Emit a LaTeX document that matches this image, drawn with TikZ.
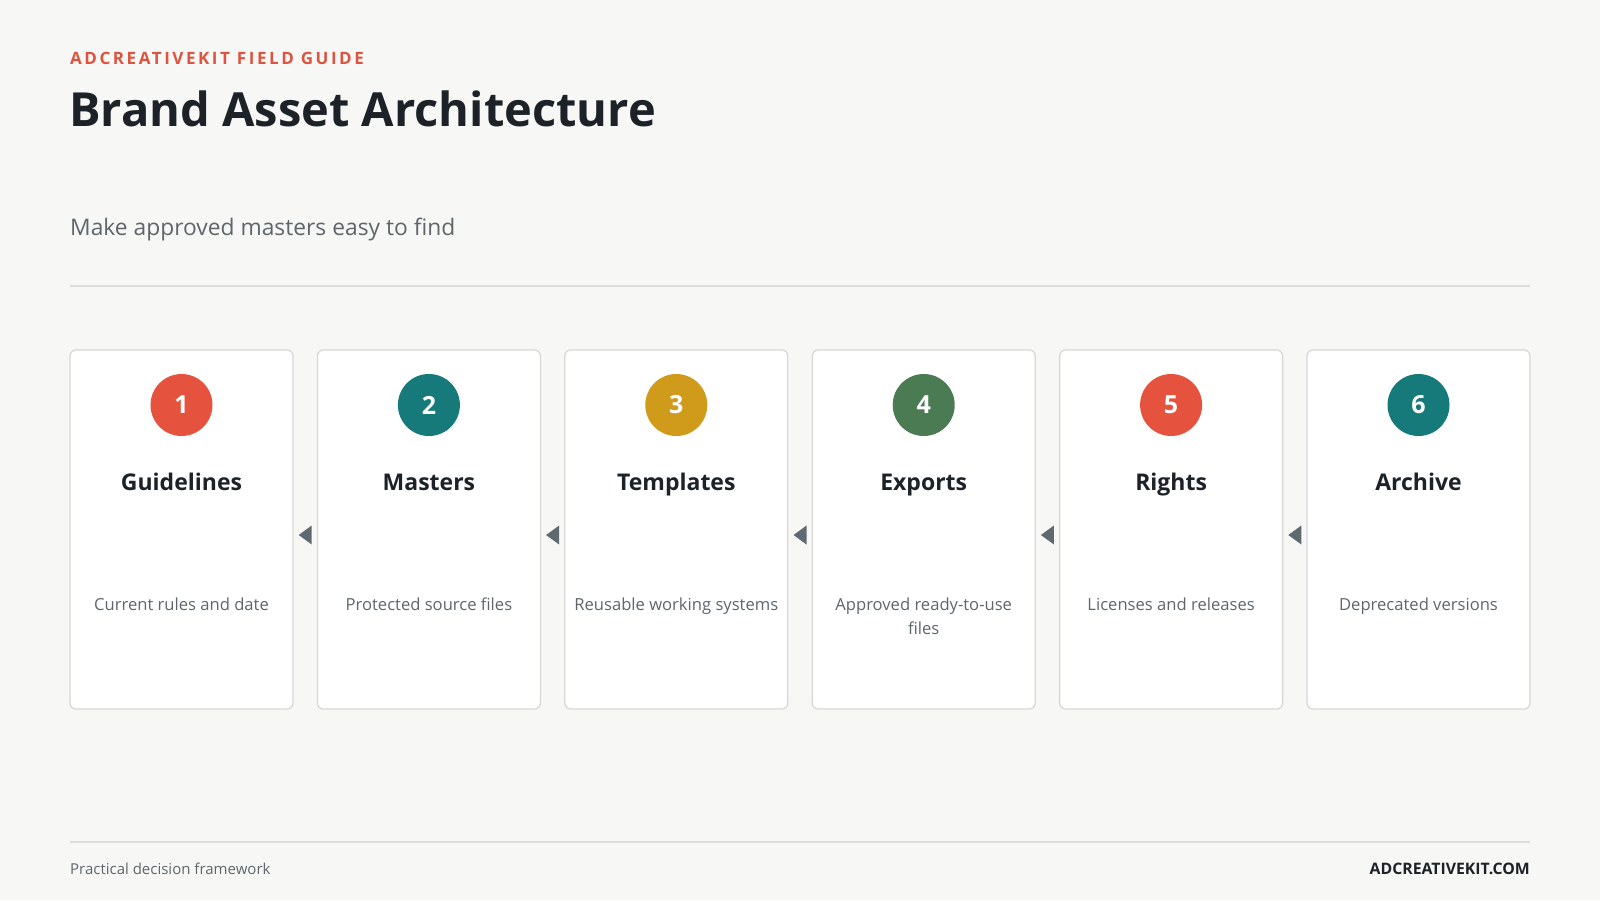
\documentclass[tikz,border=0pt]{standalone}
\usepackage{fontspec}
\setmainfont{Open Sans}
\newfontfamily\kickerfont{Open Sans}[LetterSpace=15]
\usetikzlibrary{calc}

\definecolor{pagebg}{HTML}{F7F7F5}
\definecolor{cardline}{HTML}{D8D8D6}
\definecolor{ruleline}{HTML}{DCDCDA}
\definecolor{inkdark}{HTML}{1C2228}
\definecolor{inkgray}{HTML}{5E666C}
\definecolor{kickred}{HTML}{DD5440}
\definecolor{dotred}{HTML}{E5533F}
\definecolor{dotteal}{HTML}{16797A}
\definecolor{dotgold}{HTML}{D09A1A}
\definecolor{dotgreen}{HTML}{4B7B52}
\definecolor{markgray}{HTML}{5F6A70}

\tikzset{
  card/.style={draw=cardline, line width=1.3pt, fill=white, rounded corners=6pt,
    minimum width=223pt, minimum height=359pt, inner sep=0pt},
  dot/.style={circle, minimum size=62pt, inner sep=0pt, text=white,
    font=\bfseries\fontsize{25}{28}\selectfont},
  cardtitle/.style={anchor=base, inner sep=0pt, text=inkdark,
    font=\bfseries\fontsize{23}{28}\selectfont},
  carddesc/.style={anchor=north, inner sep=0pt, text=inkgray,
    align=center, font=\fontsize{16.6}{24.5}\selectfont},
  rulestyle/.style={ruleline, line width=1.3pt}
}

\begin{document}
\begin{tikzpicture}[x=1pt, y=-1pt]
  \fill[pagebg] (0,0) rectangle (1600,900);
  \useasboundingbox (0,0) rectangle (1600,900);

  % header
  \node [anchor=base west, inner sep=0pt, text=kickred] (kicker) at (70,64.3)
    {\kickerfont\bfseries\fontsize{17}{20}\selectfont ADCREATIVEKIT FIELD GUIDE};
  \node [anchor=base west, inner sep=0pt, text=inkdark] (title) at (69,126.5)
    {\bfseries\fontsize{47}{52}\selectfont Brand Asset Architecture};
  \node [anchor=base west, inner sep=0pt, text=inkgray] (subtitle) at (70,235)
    {\fontsize{22.8}{26}\selectfont Make approved masters easy to find};
  \draw [rulestyle] (70,286) -- (1530,286);

  % cards
  \foreach \i/\name/\desc/\col in {
      1/Guidelines/Current rules and date/dotred,
      2/Masters/Protected source files/dotteal,
      3/Templates/Reusable working systems/dotgold,
      4/Exports/Approved ready-to-use\\files/dotgreen,
      5/Rights/Licenses and releases/dotred,
      6/Archive/Deprecated versions/dotteal} {
    \pgfmathsetmacro\xm{181.5+(\i-1)*247.4}
    \node [card] (c\i) at (\xm,529.5) {};
    \node [dot, fill=\col] (n\i) at (\xm,405) {\i};
    \node [cardtitle] (t\i) at (\xm,490) {\name};
    \node [carddesc] (d\i) at (\xm,597.5) {\desc};
  }

  % markers between cards
  \foreach \i [evaluate=\i as \j using int(\i+1)] in {1,...,5} {
    \coordinate (m\i) at ($(c\i.east)!0.5!(c\j.west)+(0,5.5)$);
    \fill [markgray] ($(m\i)+(-6.5,0)$) -- ++(13,-9.5) -- ++(0,19) -- cycle;
  }

  % footer
  \draw [rulestyle] (70,842) -- (1530,842);
  \node [anchor=base west, inner sep=0pt, text=inkgray] (foot) at (70,874.5)
    {\fontsize{15}{18}\selectfont Practical decision framework};
  \node [anchor=base east, inner sep=0pt, text=inkdark] (site) at (1530,874.5)
    {\bfseries\fontsize{15.8}{18}\selectfont ADCREATIVEKIT.COM};
\end{tikzpicture}
\end{document}
